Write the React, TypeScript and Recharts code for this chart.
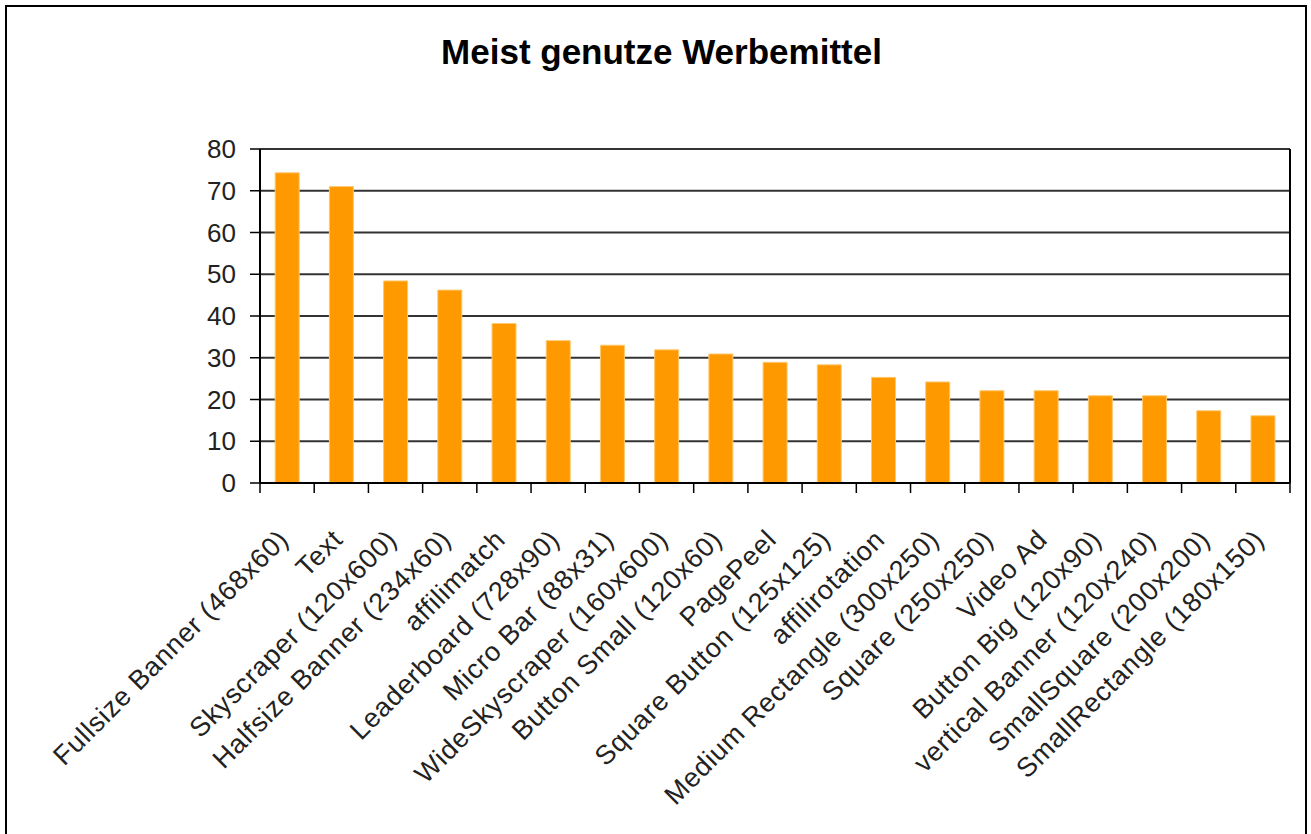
import { BarChart, Bar, XAxis, YAxis, CartesianGrid } from 'recharts';

// Werbemittel (Kategorien) und Werte
const categories = [
  'Fullsize Banner (468x60)',
  'Text',
  'Skyscraper (120x600)',
  'Halfsize Banner (234x60)',
  'affilimatch',
  'Leaderboard (728x90)',
  'Micro Bar (88x31)',
  'WideSkyscraper (160x600)',
  'Button Small (120x60)',
  'PagePeel',
  'Square Button (125x125)',
  'affilirotation',
  'Medium Rectangle (300x250)',
  'Square (250x250)',
  'Video Ad',
  'Button Big (120x90)',
  'vertical Banner (120x240)',
  'SmallSquare (200x200)',
  'SmallRectangle (180x150)',
];
const values = [
  74.3, 71.0, 48.4, 46.2, 38.2, 34.1, 33.0, 31.9, 30.9, 28.9, 28.3, 25.3, 24.2,
  22.1, 22.1, 20.9, 20.9, 17.3, 16.1,
];
const yTicks = [0, 10, 20, 30, 40, 50, 60, 70, 80];

const data = categories.map((name, i) => ({ name, value: values[i] }));

const FONT = '"Liberation Sans", Arial, sans-serif';

// Kategorie-Beschriftung, -45° gedreht, Teilstriche zwischen den Balken
const CategoryTick = (props: any) => {
  const { x, y, payload, index } = props;
  const half = payload?.offset ?? 0;
  const last = index === categories.length - 1;
  const axisY = y - 8;
  const bx = x + 3;
  const by = axisY + 58;
  return (
    <g>
      <line x1={x - half} y1={axisY} x2={x - half} y2={axisY + 10} stroke="#000" strokeWidth={1.5} />
      {last && (
        <line x1={x + half} y1={axisY} x2={x + half} y2={axisY + 10} stroke="#000" strokeWidth={1.5} />
      )}
      <text
        x={bx}
        y={by}
        transform={`rotate(-45, ${bx}, ${by})`}
        textAnchor="end"
        fontSize={27}
        letterSpacing={0.8}
        fontFamily={FONT}
        fill="#222"
      >
        {payload.value}
      </text>
    </g>
  );
};

export default function App() {
  return (
    <div
      style={{
        position: 'absolute',
        left: 0,
        top: 0,
        width: 1311,
        height: 834,
        overflow: 'hidden',
        background: '#fff',
      }}
    >
      {/* Rahmen */}
      <div
        style={{
          position: 'absolute',
          left: 5,
          top: 5,
          width: 1302,
          height: 860,
          border: '2px solid #000',
          boxSizing: 'border-box',
        }}
      />
      <div
        style={{
          position: 'absolute',
          left: 0,
          width: 1323,
          top: 32,
          textAlign: 'center',
          fontFamily: FONT,
          fontWeight: 'bold',
          fontSize: 35,
          color: '#000',
        }}
      >
        Meist genutze Werbemittel
      </div>
      <div style={{ position: 'absolute', left: 0, top: 0 }}>
        <BarChart
          width={1311}
          height={834}
          data={data}
          margin={{ top: 149, right: 20, left: 0, bottom: 0 }}
          barCategoryGap="28%"
        >
          <CartesianGrid yAxisId="left" vertical={false} stroke="#333" strokeWidth={2} />
          <XAxis
            dataKey="name"
            interval={0}
            tickLine={false}
            tickSize={6}
            tickMargin={2}
            tick={<CategoryTick />}
            axisLine={{ stroke: '#000', strokeWidth: 2 }}
            height={351}
          />
          <YAxis
            yAxisId="left"
            width={260}
            domain={[0, 80]}
            ticks={yTicks}
            interval={0}
            tickSize={10}
            tickMargin={14}
            tickLine={{ stroke: '#000', strokeWidth: 1.5 }}
            axisLine={{ stroke: '#000', strokeWidth: 2 }}
            tick={{ fontSize: 26, fontFamily: FONT, fill: '#222' }}
          />
          <YAxis
            yAxisId="right"
            orientation="right"
            width={1}
            domain={[0, 80]}
            tick={false}
            tickLine={false}
            axisLine={{ stroke: '#000', strokeWidth: 2 }}
          />
          <Bar
            yAxisId="left"
            dataKey="value"
            fill="#FF9900"
            stroke="#FFC870"
            strokeWidth={1}
            isAnimationActive={false}
          />
        </BarChart>
      </div>
    </div>
  );
}
